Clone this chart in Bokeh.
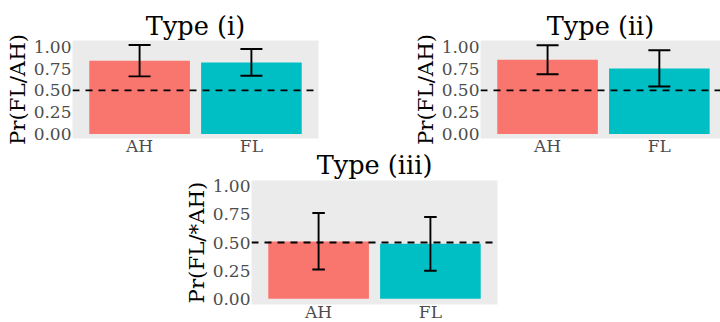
from bokeh.plotting import figure
from bokeh.models import (Range1d, FixedTicker, Span, Whisker, TeeHead,
                          ColumnDataSource, Spacer, NumeralTickFormatter)
from bokeh.layouts import row, column
from bokeh.embed import file_html
from bokeh.resources import INLINE

# ---- data -------------------------------------------------------------
groups = ["AH", "FL"]
bar_colors = ["#F8766D", "#00BFC4"]
y_ticks = [0.0, 0.25, 0.5, 0.75, 1.0]
chance = 0.5

# Type (i)
mean_i = [0.84, 0.82]
lower_i = [0.66, 0.668]
upper_i = [1.02, 0.973]

# Type (ii)
mean_ii = [0.85, 0.75]
lower_ii = [0.685, 0.545]
upper_ii = [1.017, 0.96]

# Type (iii)
mean_iii = [0.509, 0.489]
lower_iii = [0.26, 0.25]
upper_iii = [0.762, 0.726]

FONT = "DejaVu Serif"


def panel(title, ylabel, mean, lower, upper, y_range, x_end, frame_w, frame_h,
          border_top, border_right, border_bottom, cap, title_offset=0,
          title_standoff=0):
    xs = list(range(1, len(groups) + 1))
    src = ColumnDataSource(dict(x=xs, mean=mean, lower=lower, upper=upper,
                                color=bar_colors))
    p = figure(frame_width=frame_w, frame_height=frame_h,
               x_range=Range1d(0.4, x_end), y_range=Range1d(*y_range),
               output_backend="svg", toolbar_location=None,
               min_border_left=72, min_border_right=border_right,
               min_border_top=border_top, min_border_bottom=border_bottom)
    p.background_fill_color = "#EBEBEB"
    p.border_fill_color = None
    p.outline_line_color = None
    p.grid.visible = False

    p.vbar(x="x", top="mean", bottom=0, width=0.9, fill_color="color",
           line_color=None, source=src)
    p.add_layout(Span(location=chance, dimension="width", line_color="black",
                      line_width=1.8, line_dash="7 6"))
    p.add_layout(Whisker(base="x", lower="lower", upper="upper", source=src,
                         level="overlay", line_color="black", line_width=1.9,
                         upper_head=TeeHead(size=cap, line_color="black", line_width=1.9),
                         lower_head=TeeHead(size=cap, line_color="black", line_width=1.9)))

    p.title.text = title
    p.title.align = "center"
    p.title.text_font = FONT
    p.title.text_font_size = "25.6px"
    p.title.text_font_style = "normal"
    p.title.text_color = "black"
    p.title.standoff = title_standoff
    p.title.offset = title_offset

    xa = p.xaxis[0]
    xa.ticker = FixedTicker(ticks=xs)
    xa.major_label_overrides = {x: g for x, g in zip(xs, groups)}
    xa.major_label_standoff = -3
    ya = p.yaxis[0]
    ya.ticker = FixedTicker(ticks=y_ticks)
    ya.formatter = NumeralTickFormatter(format="0.00")
    ya.major_label_standoff = 1
    ya.axis_label = ylabel
    ya.axis_label_text_font = FONT
    ya.axis_label_text_font_size = "21.3px"
    ya.axis_label_text_font_style = "normal"
    ya.axis_label_text_color = "black"
    ya.axis_label_standoff = 1
    for ax in (xa, ya):
        ax.axis_line_color = None
        ax.major_tick_line_color = None
        ax.minor_tick_line_color = None
        ax.major_tick_out = 0
        ax.major_tick_in = 0
        ax.major_label_text_font = FONT
        ax.major_label_text_font_size = "17px"
        ax.major_label_text_color = "#4D4D4D"
    return p


yr_top = (-0.051, 1.071)
p1 = panel("Type (i)", "Pr(FL/AH)", mean_i, lower_i, upper_i, yr_top, 2.6,
           246, 98, 40, 90, 24, 22)
p2 = panel("Type (ii)", "Pr(FL/AH)", mean_ii, lower_ii, upper_ii, yr_top, 2.547,
           240, 98, 40, 0, 24, 22, title_offset=3)
p3 = panel("Type (iii)", "Pr(FL/*AH)", mean_iii, lower_iii, upper_iii, (-0.05, 1.05), 2.6,
           246, 124, 32, 20, 0, 12.5, title_standoff=1)

top = row(p1, p2)
bottom = row(Spacer(width=179, height=10), p3, margin=(-15, 0, 0, 0))
layout = column(top, bottom)

open("out.html", "w").write(file_html(layout, INLINE))
